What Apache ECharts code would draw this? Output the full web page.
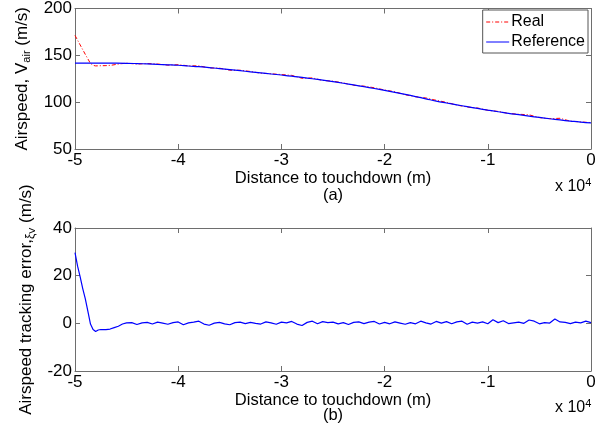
<!DOCTYPE html>
<html>
<head>
<meta charset="utf-8">
<script src="https://cdn.jsdelivr.net/npm/echarts@6/dist/echarts.min.js"></script>
<style>html,body{margin:0;padding:0;background:#fff}#c{width:611px;height:429px}</style>
</head>
<body>
<div id="c"></div>
<script>
// Distance (m) for the reference airspeed profile
var refDist = [-50000,-49000,-48000,-47000,-46000,-45000,-44000,-43000,-42000,-41000,-40000,-39000,-38000,-37000,-36000,-35000,-34000,-33000,-32000,-31000,-30000,-29000,-28000,-27000,-26000,-25000,-24000,-23000,-22000,-21000,-20000,-19000,-18000,-17000,-16000,-15000,-14000,-13000,-12000,-11000,-10000,-9000,-8000,-7000,-6000,-5000,-4000,-3000,-2000,-1000,0];
var refSpeed = [141.6,141.6,141.6,141.6,141.6,141.5,141.2,140.8,140.3,139.9,139.4,138.6,137.9,136.9,135.9,134.7,133.6,132.4,131.2,130.1,129.0,127.8,126.4,125.0,123.5,121.9,120.2,118.4,116.5,114.6,112.6,110.5,108.3,106.0,103.6,101.2,99.1,97.1,95.2,93.3,91.5,89.8,88.1,86.6,85.1,83.7,82.3,81.0,79.8,78.7,77.9];

// Distance (m) and airspeed for the real (measured) airspeed
var realDist = [-50000,-49500,-49000,-48500,-48200,-48000,-47500,-47000,-46500,-46000,-45500,-45000,-44000,-43000,-42000,-41000,-40000,-39000,-38000,-37000,-36000,-35000,-34000,-33000,-32000,-31000,-30000,-29000,-28000,-27000,-26000,-25000,-24000,-23000,-22000,-21000,-20000,-19000,-18000,-17000,-16000,-15000,-14000,-13000,-12000,-11000,-10000,-9000,-8000,-7000,-6000,-5000,-4000,-3000,-2000,-1000,0];
var realSpeed = [171.3,161.1,151.0,141.3,139.2,138.7,138.9,139.0,139.4,140.3,141.1,141.6,140.7,141.2,140.8,139.5,140.0,138.8,138.8,136.6,136.3,134.1,134.1,132.8,130.9,130.3,129.5,128.6,125.5,125.9,123.2,122.4,120.5,118.0,117.1,115.4,113.0,111.1,107.9,105.8,104.5,102.0,99.8,96.9,94.8,93.8,91.3,90.1,88.0,87.1,86.5,83.5,82.4,82.8,79.7,78.9,78.2];

// Airspeed tracking error
var errDist = [-50000,-49750,-49500,-49250,-49000,-48750,-48500,-48250,-48000,-47750,-47500,-47000,-46600,-46200,-45800,-45400,-45000,-44500,-44000,-43500,-43000,-42500,-42000,-41500,-41000,-40500,-40000,-39500,-39000,-38500,-38000,-37500,-37000,-36500,-36000,-35500,-35000,-34500,-34000,-33500,-33000,-32500,-32000,-31500,-31000,-30500,-30000,-29500,-29000,-28500,-28000,-27500,-27000,-26500,-26000,-25500,-25000,-24500,-24000,-23500,-23000,-22500,-22000,-21500,-21000,-20500,-20000,-19500,-19000,-18500,-18000,-17500,-17000,-16500,-16000,-15500,-15000,-14500,-14000,-13500,-13000,-12500,-12000,-11500,-11000,-10500,-10000,-9500,-9000,-8500,-8000,-7500,-7000,-6500,-6000,-5500,-5000,-4500,-4000,-3500,-3000,-2500,-2000,-1500,-1000,-500,0];
var errVals = [29.7,24.0,19.5,14.6,10.3,5.0,-0.3,-2.6,-3.4,-2.8,-2.6,-2.6,-2.4,-1.8,-1.2,-0.3,0.2,0.3,-0.5,0.2,0.4,-0.3,0.5,0.1,-0.4,0.3,0.6,-0.6,0.2,0.5,0.9,-0.3,-0.8,0.1,0.4,-0.2,-0.6,0.3,0.5,-0.1,0.4,0.0,-0.3,0.6,0.2,-0.4,0.5,0.2,0.8,-0.3,-0.9,0.4,0.9,-0.2,0.7,0.3,0.5,-0.2,0.3,-0.5,0.4,0.6,-0.1,0.5,0.8,-0.3,0.4,-0.2,0.6,0.1,-0.4,0.3,-0.2,0.9,0.2,-0.3,0.8,0.1,0.7,-0.2,0.6,0.9,-0.4,0.5,0.1,0.6,-0.2,1.5,0.3,1.1,-0.1,0.2,0.5,0.0,1.4,0.9,-0.2,0.3,0.1,1.8,0.6,0.4,-0.1,0.5,0.2,0.9,0.3];

function pairs(xs, ys){ return xs.map(function(x,i){ return [x, ys[i]]; }); }

var FONT = 'Liberation Sans, Arial, sans-serif';
var AX = '#6e6e6e';

function xAx(grid, pos, name, lh, gap){
  var a = {
    type:'value', gridIndex:grid, position:pos, min:-50000, max:0, interval:10000,
    axisLine:{show:true, onZero:false, lineStyle:{color:AX, width:1}},
    axisTick:{show:true, inside:true, length:5, lineStyle:{color:AX}},
    splitLine:{show:false},
    axisLabel:{show: pos==='bottom', color:'#000', fontSize:17, fontFamily:FONT, margin:3,
      formatter:function(v){ return String(v/10000); }}
  };
  if (name){
    a.name = name; a.nameLocation='middle'; a.nameGap=gap;
    a.nameTextStyle={color:'#000', fontSize:16.5, fontFamily:FONT, lineHeight:lh};
  }
  return a;
}
function yAx(grid, pos, min, max, iv, name){
  var a = {
    type:'value', gridIndex:grid, position:pos, min:min, max:max, interval:iv,
    axisLine:{show:true, onZero:false, lineStyle:{color:AX, width:1}},
    axisTick:{show:true, inside:true, length:5, lineStyle:{color:AX}},
    splitLine:{show:false},
    axisLabel:{show: pos==='left', color:'#000', fontSize:17, fontFamily:FONT, margin:3}
  };
  if (name){
    a.name = name; a.nameLocation='middle'; a.nameGap=33;
    a.nameTextStyle={color:'#000', fontSize:17, fontFamily:FONT,
      rich:{
        m:{fontSize:17, fontFamily:FONT, color:'#000', lineHeight:20},
        s:{fontSize:11, fontFamily:FONT, color:'#000', lineHeight:11, verticalAlign:'bottom'},
        x:{fontSize:12, fontFamily:FONT, color:'#000', lineHeight:14, verticalAlign:'bottom'},
        v:{fontSize:9, fontFamily:FONT, color:'#000', lineHeight:9, verticalAlign:'bottom'}
      }};
  }
  return a;
}

var chart = echarts.init(document.getElementById('c'), null, {renderer:'canvas'});
chart.setOption({
  backgroundColor:'#fff',
  animation:false,
  grid:[
    {left:75, right:20, top:7, height:142},
    {left:75, right:20, top:228, height:143}
  ],
  xAxis:[
    xAx(0,'bottom','Distance to touchdown (m)\n(a)',17,20),
    xAx(0,'top'),
    xAx(1,'bottom','Distance to touchdown (m)\n(b)',15,19),
    xAx(1,'top')
  ],
  yAxis:[
    yAx(0,'left',50,200,50,'{m|Airspeed, V}{s|air}{m| (m/s)}'),
    yAx(0,'right',50,200,50),
    yAx(1,'left',-20,40,20,'{m|Airspeed tracking error,}{x|ξ}{v|V}{m| (m/s)}'),
    yAx(1,'right',-20,40,20)
  ],
  legend:{
    orient:'vertical', right:23, top:10,
    data:['Real','Reference'],
    backgroundColor:'#fff', borderColor:'#555', borderWidth:1,
    padding:[3,3,2,3], itemGap:2, itemWidth:23, itemHeight:14, itemStyle:{opacity:0},
    lineStyle:{width:1},
    textStyle:{color:'#000', fontSize:16, fontFamily:FONT, lineHeight:18, padding:[0,0,0,-3]}
  },
  series:[
    {name:'Real', type:'line', xAxisIndex:0, yAxisIndex:0, symbol:'none', smooth:false,
      data:pairs(realDist, realSpeed), color:'#ff0000',
      lineStyle:{color:'#ff0000', width:1, type:[4,2,1,2]}},
    {name:'Reference', type:'line', xAxisIndex:0, yAxisIndex:0, symbol:'none', smooth:true,
      data:pairs(refDist, refSpeed), color:'#0000ff',
      lineStyle:{color:'#0000ff', width:1.2}},
    {name:'Tracking error', type:'line', xAxisIndex:2, yAxisIndex:2, symbol:'none', smooth:false,
      data:pairs(errDist, errVals), color:'#0000ff',
      lineStyle:{color:'#0000ff', width:1.2}}
  ],
  graphic:[
    {type:'text', left:555, top:177, style:{text:'{a|x 10}{b|4}', rich:{
      a:{fontSize:16, fontFamily:FONT, fill:'#000', lineHeight:18, verticalAlign:'bottom'},
      b:{fontSize:11, fontFamily:FONT, fill:'#000', lineHeight:11, verticalAlign:'top'}}}},
    {type:'text', left:555, top:398, style:{text:'{a|x 10}{b|4}', rich:{
      a:{fontSize:16, fontFamily:FONT, fill:'#000', lineHeight:18, verticalAlign:'bottom'},
      b:{fontSize:11, fontFamily:FONT, fill:'#000', lineHeight:11, verticalAlign:'top'}}}}
  ]
});
</script>
</body>
</html>
